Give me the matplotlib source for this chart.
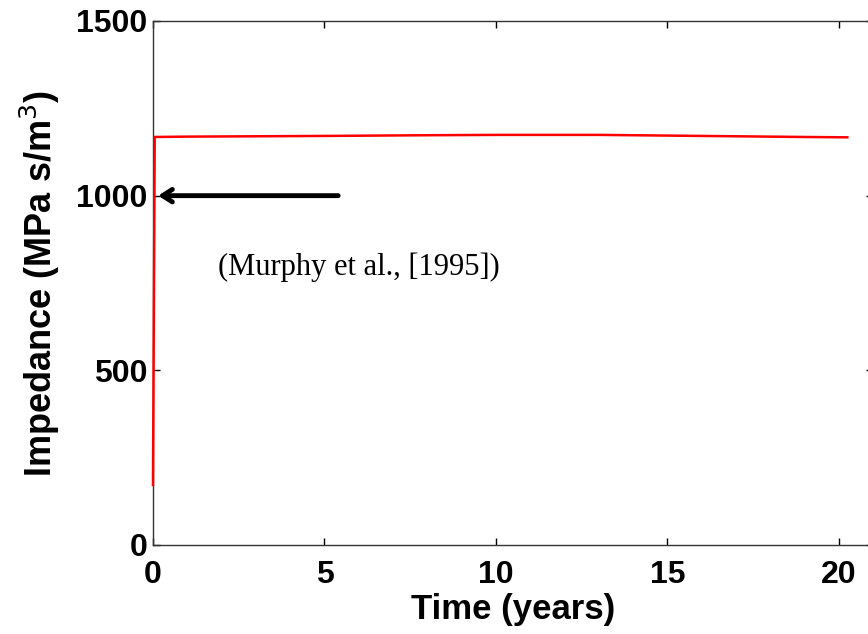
import numpy as np
import matplotlib
matplotlib.use("Agg")
import matplotlib.pyplot as plt

# impedance curve
time_yr = [0.0, 0.0, 0.05, 1, 3, 5, 8, 10, 13, 15, 17, 19, 20.25]
impedance = [172, 172, 1168, 1169, 1170, 1171, 1173, 1174, 1174, 1172, 1170, 1168, 1167]

xticks = [0, 5, 10, 15, 20]
yticks = [0, 500, 1000, 1500]

note_text = "(Murphy et al., [1995])"

fig = plt.figure(figsize=(8.68, 6.34), dpi=100)
W, H = 868, 634
ax = fig.add_axes([153 / W, 1 - 545 / H, (873 - 153) / W, (545 - 21) / H])

ax.plot(time_yr, impedance, color="#ff0000", lw=1.8, zorder=5, clip_on=False)

ax.set_xlim(0, 21)
ax.set_ylim(0, 1500)
ax.set_xticks(xticks)
ax.set_yticks(yticks)
ax.tick_params(direction="in", length=5, width=1, top=True, right=True,
               labelsize=23)
ax.tick_params(axis="x", pad=11)
ax.tick_params(axis="y", pad=4)
for lab in ax.get_xticklabels() + ax.get_yticklabels():
    lab.set_fontweight("bold")
    lab.set_family("Liberation Sans")
for s in ax.spines.values():
    s.set_linewidth(1)
    s.set_color("#333333")

ax.set_xlabel("Time (years)", fontsize=25, fontweight="bold",
              family="Liberation Sans", labelpad=2)
ax.set_ylabel("Impedance (MPa s/m$^3$)", fontsize=26, fontweight="bold",
              family="Liberation Sans", labelpad=10)

ax.annotate("", xy=(0.15, 1000), xytext=(5.4, 1000),
            arrowprops=dict(arrowstyle="->,head_length=0.7,head_width=0.45",
                            lw=3.5, color="black", shrinkA=0, shrinkB=0))
ax.text(1.9, 795, note_text, fontsize=22, family="Liberation Serif",
        va="center", ha="left")

fig.savefig("out.png", dpi=100)
